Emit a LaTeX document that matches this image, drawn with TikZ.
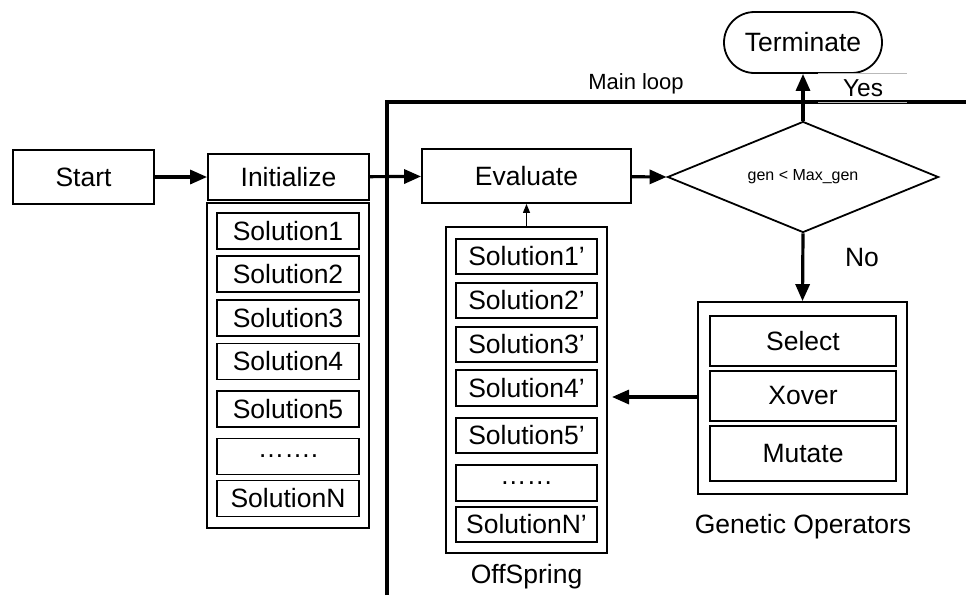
\documentclass[tikz,border=0pt]{standalone}
\usepackage{fontspec}
\setmainfont{Liberation Sans}
\usetikzlibrary{arrows.meta,shapes.geometric,shapes.misc}
\begin{document}
\begin{tikzpicture}[x=1pt,y=-1pt,
  box/.style={draw,line width=1.8pt,rectangle,inner sep=0pt,font=\fontsize{26.5}{29}\selectfont},
  sol/.style={box,minimum width=142pt,minimum height=36pt},
  osol/.style={box,minimum width=141pt,minimum height=35pt},
  gop/.style={box,minimum width=186pt},
  cont/.style={draw,line width=1.8pt,rectangle,inner sep=0pt},
  lbl/.style={inner sep=0pt,font=\fontsize{26.5}{29}\selectfont},
  conn/.style={line width=3.2pt,-{Triangle[length=17pt,width=14pt]}},
  thin/.style={line width=1.2pt,-{Triangle[length=9pt,width=7pt]}}
]
\useasboundingbox (0,0) rectangle (966,595);
% main loop
\coordinate (mlb) at (387,595);
\coordinate (mlc) at (387,102);
\coordinate (mlr) at (966,102);
\draw[line width=3.4pt] (mlb) -- (mlc) -- (mlr);
\node[lbl,font=\fontsize{22}{24}\selectfont] (mainloop) at (636,84) {Main loop};

\node[box,minimum width=141pt,minimum height=54pt] (start) at (83.5,177) {Start};
\node[box,minimum width=161pt,minimum height=46pt] (init) at (288.5,177) {Initialize};
\node[cont,minimum width=162pt,minimum height=325pt] (initc) at (288,365.5) {};
\node[sol] (s1) at (288,231) {Solution1};
\node[sol] (s2) at (288,274) {Solution2};
\node[sol] (s3) at (288,318) {Solution3};
\node[sol] (s4) at (288,361.5) {Solution4};
\node[sol] (s5) at (288,409) {Solution5};
\node[sol] (sd) at (288,456.5) {…….};
\node[sol] (sn) at (288,498.5) {SolutionN};

\node[box,minimum width=209pt,minimum height=54pt] (eval) at (526.5,176) {Evaluate};

\node[draw,line width=1.8pt,diamond,aspect=2.44,minimum width=271pt,minimum height=111pt,inner sep=0pt,font=\fontsize{16}{18}\selectfont] (dec) at (803,177) {gen < Max\_gen};

\node[draw,line width=1.8pt,rounded rectangle,minimum width=158pt,minimum height=61pt,inner sep=0pt,font=\fontsize{26.5}{29}\selectfont] (term) at (803,42.5) {Terminate};

\node[cont,minimum width=209pt,minimum height=192pt] (goc) at (802.5,398) {};
\node[gop,minimum height=50pt] (sel) at (803,341) {Select};
\node[gop,minimum height=50pt] (xov) at (803,396) {Xover};
\node[gop,minimum height=55pt] (mut) at (803,453.5) {Mutate};
\node[lbl] (golbl) at (803,527) {Genetic Operators};

\node[cont,minimum width=161pt,minimum height=326pt] (offc) at (526.5,390) {};
\node[osol] (o1) at (526.5,256.5) {Solution1’};
\node[osol] (o2) at (526.5,300.5) {Solution2’};
\node[osol] (o3) at (526.5,344.5) {Solution3’};
\node[osol,minimum height=36pt] (o4) at (526.5,388) {Solution4’};
\node[osol] (o5) at (526.5,435.5) {Solution5’};
\node[osol,minimum height=36pt] (od) at (526.5,483) {……};
\node[osol] (on) at (526.5,524.5) {SolutionN’};
\node[lbl] (offlbl) at (526.5,577) {OffSpring};

\node[lbl,font=\fontsize{24.5}{26}\selectfont] (yes) at (863,88) {Yes};
\node[lbl] (no) at (862,258) {No};
\draw[gray!55,line width=1pt] (818,73) -- (907,73) (818,102) -- (907,102);

\coordinate (offin) at (612,397);
\draw[conn] (start) -- (init);
\draw[conn] (init) -- (eval);
\draw[conn] (eval) -- (dec.west);
\draw[conn] (dec.north) -- (term.south);
\draw[conn] (dec.south) -- (goc.north);
\draw[conn] (goc.west |- offin) -- (offin);
\draw[thin] (offc.north) -- (eval.south);
\end{tikzpicture}
\end{document}
